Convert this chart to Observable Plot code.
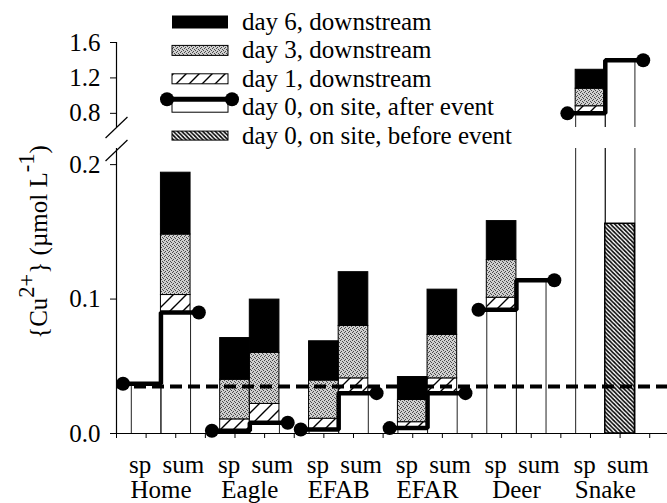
<!DOCTYPE html>
<html>
<head>
<meta charset="utf-8">
<script src="https://cdn.jsdelivr.net/npm/d3@7"></script>
<script src="https://cdn.jsdelivr.net/npm/@observablehq/plot@0.6"></script>
<style>
  html, body { margin: 0; padding: 0; background: #fff; }
  #wrap { position: relative; width: 667px; height: 503px; overflow: hidden;
          font-family: "Liberation Serif", "Times New Roman", serif; }
  #wrap > svg.plotsvg { position: absolute; left: 0; top: 0; }
  #ylabel { position: absolute; left: 38px; top: 242px; transform: translate(-50%, -50%) rotate(-90deg);
            white-space: nowrap; font-size: 25px; color: #000; line-height: 1; }
  #ylabel sup { font-size: 0.9em; vertical-align: 0.55em; line-height: 0; }
  #legend { position: absolute; left: 0; top: 0; pointer-events: none; }
  #defs { position: absolute; width: 0; height: 0; }
</style>
</head>
<body>
<svg id="defs" width="0" height="0">
  <defs>
    <pattern id="hatchDay1" patternUnits="userSpaceOnUse" width="13" height="13">
      <rect width="13" height="13" fill="white"/>
      <path d="M0,13 L13,0 M-2,2 L2,-2 M11,15 L15,11" stroke="black" stroke-width="1.4"/>
    </pattern>
    <pattern id="hatchBefore" patternUnits="userSpaceOnUse" width="4.2" height="4.2">
      <rect width="4.2" height="4.2" fill="white"/>
      <path d="M0,0 L4.2,4.2 M-1,3.2 L1,5.2 M3.2,-1 L5.2,1" stroke="black" stroke-width="1.6"/>
    </pattern>
    <pattern id="stipple" patternUnits="userSpaceOnUse" width="4" height="4">
      <rect width="4" height="4" fill="#cfcfcf"/>
      <rect x="0" y="0" width="1" height="1" fill="#4a4a4a"/>
      <rect x="2" y="1" width="1" height="1" fill="#4a4a4a"/>
      <rect x="1" y="3" width="1" height="1" fill="#4a4a4a"/>
      <rect x="3" y="2" width="1" height="1" fill="#4a4a4a"/>
    </pattern>
  </defs>
</svg>
<div id="wrap">
  <div id="ylabel">{Cu<sup>2+</sup>} (µmol L<sup>-1</sup>)</div>
</div>
<script>
// ---- data ----
const sites = ["Home", "Eagle", "EFAB", "EFAR", "Deer", "Snake"];
const seasons = ["sp", "sum"];
// values in order: Home sp, Home sum, Eagle sp, Eagle sum, ...
const day0After  = [0.037, 0.090, 0.002, 0.008, 0.003, 0.030, 0.004, 0.030, 0.092, 0.114, 0.80, 1.40];
const day1Down   = [null, 0.103, 0.0105, 0.022, 0.011, 0.041, 0.0084, 0.041, 0.101, null, 0.88, null];
const day3Down   = [null, 0.148, 0.040, 0.060, 0.0394, 0.080, 0.025, 0.0734, 0.129, null, 1.078, null];
const day6Down   = [null, 0.194, 0.071, 0.0996, 0.0686, 0.120, 0.042, 0.107, 0.158, null, 1.292, null];
const day0Before = [null, null, null, null, null, null, null, null, null, null, null, 0.156];
const referenceLevel = 0.035;
const yTicks = [0, 0.1, 0.2, 0.8, 1.2, 1.6];
const legendLabels = [
  "day 6, downstream",
  "day 3, downstream",
  "day 1, downstream",
  "day 0, on site, after event",
  "day 0, on site, before event"
];

// ---- broken-axis layout: value -> linear display units (pixels above the baseline) ----
const lowerTop = 0.212, upperBottom = 0.64, yMax = 1.6, xMax = 18.6;
const brk = d3.scaleLinear().domain([0, lowerTop, upperBottom, yMax]).range([0, 285, 306, 391]);
const fmt = d3.format(".1f");
const grey = "url(#stipple)";
const lineOff = 0.28;
const FS = 25;

const bars = [];
sites.forEach((site, i) => seasons.forEach((season, j) => {
  const k = 2 * i + j;
  bars.push({site, season, pos: 3 * i + 1 + j,
    d0: day0After[k], d1: day1Down[k], d3: day3Down[k], d6: day6Down[k], before: day0Before[k]});
}));

const whitePieces = bars.flatMap(b => b.d0 > lowerTop
  ? [{pos: b.pos, lo: 0, hi: lowerTop}, {pos: b.pos, lo: upperBottom, hi: b.d0}]
  : [{pos: b.pos, lo: 0, hi: b.d0}]);
const stacked = bars.filter(b => b.d1 != null);
const beforeBars = bars.filter(b => b.before != null);

const steps = sites.flatMap((site, i) => {
  const sp = bars[2 * i], su = bars[2 * i + 1];
  return [
    {site, x: sp.pos - 0.5 - lineOff, y: sp.d0},
    {site, x: sp.pos + 0.5, y: su.d0},
    {site, x: su.pos + 0.5 + lineOff, y: su.d0}
  ];
});
const stepEnds = steps.filter((d, k) => k % 3 !== 1);

const seasonLabels = bars.map(b => ({x: b.pos + (b.season === "sp" ? -0.2 : 0.26), text: b.season}));
const siteLabels = sites.map((s, i) => ({x: 3 * i + 1.5, text: s}));

// axis-break slashes (display units)
const slashes = [brk(lowerTop) - 2, brk(upperBottom)].map(c => ({x1: -0.37, x2: 0.37, y1: c - 10.5, y2: c + 10.5}));

const x1 = d => d.pos - 0.5, x2 = d => d.pos + 0.5;
const Y = f => d => brk(d[f]);

const plot = Plot.plot({
  width: 667, height: 503,
  marginLeft: 116, marginRight: 0, marginTop: 42, marginBottom: 70,
  x: {domain: [0, xMax], axis: null},
  y: {domain: [0, brk(yMax)], axis: null},
  className: "plotsvg",
  style: {fontFamily: "Liberation Serif, Times New Roman, serif", fontSize: FS + "px", background: "transparent", overflow: "visible", color: "black"},
  marks: [
    Plot.rect(whitePieces, {x1, x2, y1: Y("lo"), y2: Y("hi"), fill: "white"}),
    Plot.ruleX(whitePieces, {x: x1, y1: Y("lo"), y2: Y("hi"), stroke: "#222", strokeWidth: 1}),
    Plot.ruleX(whitePieces, {x: x2, y1: Y("lo"), y2: Y("hi"), stroke: "#222", strokeWidth: 1}),
    Plot.rect(stacked, {x1, x2, y1: Y("d0"), y2: Y("d1"), fill: "url(#hatchDay1)", stroke: "black", strokeWidth: 1}),
    Plot.rect(stacked, {x1, x2, y1: Y("d1"), y2: Y("d3"), fill: grey, stroke: "black", strokeWidth: 1}),
    Plot.rect(stacked, {x1, x2, y1: Y("d3"), y2: Y("d6"), fill: "black", stroke: "black", strokeWidth: 1}),
    Plot.rect(beforeBars, {x1, x2, y1: 0, y2: Y("before"), fill: "url(#hatchBefore)", stroke: "black", strokeWidth: 1.5}),
    Plot.ruleY([referenceLevel], {y: d => brk(d), x1: 0, x2: xMax, stroke: "black", strokeWidth: 4, strokeDasharray: "12,6"}),
    Plot.line(steps, {x: "x", y: Y("y"), z: "site", curve: "step-after", stroke: "black", strokeWidth: 4.5, strokeLinejoin: "miter"}),
    Plot.dot(stepEnds, {x: "x", y: Y("y"), r: 7, fill: "black", stroke: "none"}),
    Plot.ruleX([0], {y1: 0, y2: brk(lowerTop), stroke: "black", strokeWidth: 1.2}),
    Plot.ruleX([0], {y1: brk(upperBottom), y2: brk(yMax), stroke: "black", strokeWidth: 1.2}),
    Plot.ruleY([0], {x1: 0, x2: xMax, stroke: "black", strokeWidth: 1.2}),
    Plot.link(slashes, {x1: "x1", x2: "x2", y1: "y1", y2: "y2", stroke: "black", strokeWidth: 1.2}),
    Plot.axisY({ticks: yTicks.map(v => brk(v)), tickFormat: d => fmt(brk.invert(d)), tickSize: 6, tickPadding: 10, fontSize: FS, stroke: "black"}),
    Plot.axisX({ticks: d3.range(0, 19), tickSize: 5, tickFormat: () => "", stroke: "black"}),
    Plot.text(seasonLabels, {x: "x", text: "text", frameAnchor: "bottom", dy: 39, lineAnchor: "bottom", fontSize: FS}),
    Plot.text(siteLabels, {x: "x", text: "text", frameAnchor: "bottom", dy: 64.5, lineAnchor: "bottom", fontSize: FS})
  ]
});
const wrap = document.getElementById("wrap");
wrap.insertBefore(plot, wrap.firstChild);

// ---- legend (overlay) ----
const lg = d3.select(wrap).append("svg").attr("id", "legend").attr("width", 667).attr("height", 160)
  .attr("font-family", "Liberation Serif, Times New Roman, serif").attr("font-size", FS);
const sx0 = 172, sx1 = 228, baseY = 30, rowH = 28.4;
legendLabels.forEach((label, i) => {
  const by = baseY + i * rowH;
  const cy = by - 8;
  if (i === 0) lg.append("rect").attr("x", sx0).attr("y", cy - 6.5).attr("width", sx1 - sx0).attr("height", 13).attr("fill", "black");
  if (i === 1) lg.append("rect").attr("x", sx0).attr("y", cy - 5).attr("width", sx1 - sx0).attr("height", 10).attr("fill", grey).attr("stroke", "black");
  if (i === 2) lg.append("rect").attr("x", sx0).attr("y", cy - 5).attr("width", sx1 - sx0).attr("height", 10).attr("fill", "url(#hatchDay1)").attr("stroke", "black");
  if (i === 3) {
    lg.append("rect").attr("x", sx0).attr("y", cy - 7).attr("width", sx1 - sx0).attr("height", 12).attr("fill", "white").attr("stroke", "black");
    lg.append("line").attr("x1", sx0 - 5).attr("x2", sx1 + 4).attr("y1", cy - 8).attr("y2", cy - 8).attr("stroke", "black").attr("stroke-width", 5);
    [sx0 - 5, sx1 + 4].forEach(cx => lg.append("circle").attr("cx", cx).attr("cy", cy - 8).attr("r", 7).attr("fill", "black"));
  }
  if (i === 4) lg.append("rect").attr("x", sx0).attr("y", cy - 4.5).attr("width", sx1 - sx0).attr("height", 9).attr("fill", "url(#hatchBefore)").attr("stroke", "black");
  lg.append("text").attr("x", 242).attr("y", by).text(label);
});
</script>
</body>
</html>
